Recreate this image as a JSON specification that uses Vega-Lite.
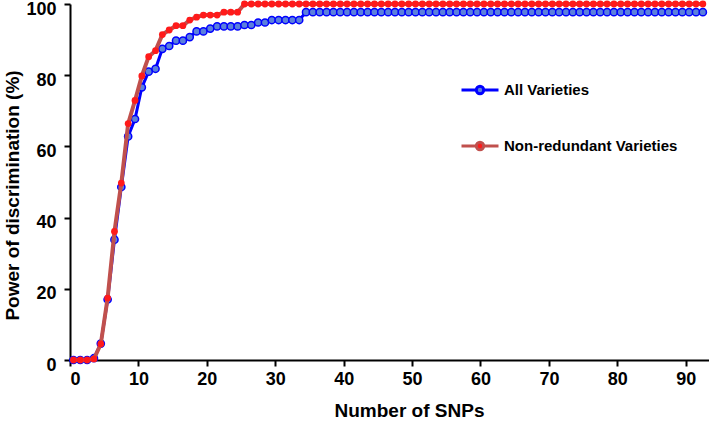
{
  "$schema": "https://vega.github.io/schema/vega-lite/v6.json",
  "width": 639,
  "height": 356,
  "autosize": {"type": "none"},
  "padding": {"left": 70, "top": 4, "right": 0, "bottom": 62},
  "background": "white",
  "config": {
    "view": {"stroke": null},
    "font": "Liberation Sans",
    "axis": {
      "grid": false,
      "domainColor": "black",
      "domainWidth": 2,
      "tickColor": "black",
      "tickWidth": 2,
      "tickSize": 6,
      "labelFont": "Liberation Sans",
      "labelFontSize": 18,
      "labelFontWeight": "bold",
      "labelColor": "black",
      "titleFont": "Liberation Sans",
      "titleFontSize": 19,
      "titleFontWeight": "bold",
      "titleColor": "black"
    }
  },
  "data": {
    "values": [
      {"snps": 0.5, "power": 0, "series": "All Varieties"},
      {"snps": 1.5, "power": 0, "series": "All Varieties"},
      {"snps": 2.5, "power": 0, "series": "All Varieties"},
      {"snps": 3.5, "power": 0.5, "series": "All Varieties"},
      {"snps": 4.5, "power": 4.6, "series": "All Varieties"},
      {"snps": 5.5, "power": 17, "series": "All Varieties"},
      {"snps": 6.5, "power": 33.8, "series": "All Varieties"},
      {"snps": 7.5, "power": 48.6, "series": "All Varieties"},
      {"snps": 8.5, "power": 62.8, "series": "All Varieties"},
      {"snps": 9.5, "power": 67.7, "series": "All Varieties"},
      {"snps": 10.5, "power": 76.6, "series": "All Varieties"},
      {"snps": 11.5, "power": 81, "series": "All Varieties"},
      {"snps": 12.5, "power": 81.8, "series": "All Varieties"},
      {"snps": 13.5, "power": 87.4, "series": "All Varieties"},
      {"snps": 14.5, "power": 88.2, "series": "All Varieties"},
      {"snps": 15.5, "power": 89.7, "series": "All Varieties"},
      {"snps": 16.5, "power": 89.7, "series": "All Varieties"},
      {"snps": 17.5, "power": 90.7, "series": "All Varieties"},
      {"snps": 18.5, "power": 92.3, "series": "All Varieties"},
      {"snps": 19.5, "power": 92.3, "series": "All Varieties"},
      {"snps": 20.5, "power": 93.1, "series": "All Varieties"},
      {"snps": 21.5, "power": 93.7, "series": "All Varieties"},
      {"snps": 22.5, "power": 93.7, "series": "All Varieties"},
      {"snps": 23.5, "power": 93.7, "series": "All Varieties"},
      {"snps": 24.5, "power": 93.7, "series": "All Varieties"},
      {"snps": 25.5, "power": 94.1, "series": "All Varieties"},
      {"snps": 26.5, "power": 94.1, "series": "All Varieties"},
      {"snps": 27.5, "power": 94.8, "series": "All Varieties"},
      {"snps": 28.5, "power": 94.8, "series": "All Varieties"},
      {"snps": 29.5, "power": 95.5, "series": "All Varieties"},
      {"snps": 30.5, "power": 95.5, "series": "All Varieties"},
      {"snps": 31.5, "power": 95.5, "series": "All Varieties"},
      {"snps": 32.5, "power": 95.5, "series": "All Varieties"},
      {"snps": 33.5, "power": 95.5, "series": "All Varieties"},
      {"snps": 34.5, "power": 97.7, "series": "All Varieties"},
      {"snps": 35.5, "power": 97.7, "series": "All Varieties"},
      {"snps": 36.5, "power": 97.7, "series": "All Varieties"},
      {"snps": 37.5, "power": 97.7, "series": "All Varieties"},
      {"snps": 38.5, "power": 97.7, "series": "All Varieties"},
      {"snps": 39.5, "power": 97.7, "series": "All Varieties"},
      {"snps": 40.5, "power": 97.7, "series": "All Varieties"},
      {"snps": 41.5, "power": 97.7, "series": "All Varieties"},
      {"snps": 42.5, "power": 97.7, "series": "All Varieties"},
      {"snps": 43.5, "power": 97.7, "series": "All Varieties"},
      {"snps": 44.5, "power": 97.7, "series": "All Varieties"},
      {"snps": 45.5, "power": 97.7, "series": "All Varieties"},
      {"snps": 46.5, "power": 97.7, "series": "All Varieties"},
      {"snps": 47.5, "power": 97.7, "series": "All Varieties"},
      {"snps": 48.5, "power": 97.7, "series": "All Varieties"},
      {"snps": 49.5, "power": 97.7, "series": "All Varieties"},
      {"snps": 50.5, "power": 97.7, "series": "All Varieties"},
      {"snps": 51.5, "power": 97.7, "series": "All Varieties"},
      {"snps": 52.5, "power": 97.7, "series": "All Varieties"},
      {"snps": 53.5, "power": 97.7, "series": "All Varieties"},
      {"snps": 54.5, "power": 97.7, "series": "All Varieties"},
      {"snps": 55.5, "power": 97.7, "series": "All Varieties"},
      {"snps": 56.5, "power": 97.7, "series": "All Varieties"},
      {"snps": 57.5, "power": 97.7, "series": "All Varieties"},
      {"snps": 58.5, "power": 97.7, "series": "All Varieties"},
      {"snps": 59.5, "power": 97.7, "series": "All Varieties"},
      {"snps": 60.5, "power": 97.7, "series": "All Varieties"},
      {"snps": 61.5, "power": 97.7, "series": "All Varieties"},
      {"snps": 62.5, "power": 97.7, "series": "All Varieties"},
      {"snps": 63.5, "power": 97.7, "series": "All Varieties"},
      {"snps": 64.5, "power": 97.7, "series": "All Varieties"},
      {"snps": 65.5, "power": 97.7, "series": "All Varieties"},
      {"snps": 66.5, "power": 97.7, "series": "All Varieties"},
      {"snps": 67.5, "power": 97.7, "series": "All Varieties"},
      {"snps": 68.5, "power": 97.7, "series": "All Varieties"},
      {"snps": 69.5, "power": 97.7, "series": "All Varieties"},
      {"snps": 70.5, "power": 97.7, "series": "All Varieties"},
      {"snps": 71.5, "power": 97.7, "series": "All Varieties"},
      {"snps": 72.5, "power": 97.7, "series": "All Varieties"},
      {"snps": 73.5, "power": 97.7, "series": "All Varieties"},
      {"snps": 74.5, "power": 97.7, "series": "All Varieties"},
      {"snps": 75.5, "power": 97.7, "series": "All Varieties"},
      {"snps": 76.5, "power": 97.7, "series": "All Varieties"},
      {"snps": 77.5, "power": 97.7, "series": "All Varieties"},
      {"snps": 78.5, "power": 97.7, "series": "All Varieties"},
      {"snps": 79.5, "power": 97.7, "series": "All Varieties"},
      {"snps": 80.5, "power": 97.7, "series": "All Varieties"},
      {"snps": 81.5, "power": 97.7, "series": "All Varieties"},
      {"snps": 82.5, "power": 97.7, "series": "All Varieties"},
      {"snps": 83.5, "power": 97.7, "series": "All Varieties"},
      {"snps": 84.5, "power": 97.7, "series": "All Varieties"},
      {"snps": 85.5, "power": 97.7, "series": "All Varieties"},
      {"snps": 86.5, "power": 97.7, "series": "All Varieties"},
      {"snps": 87.5, "power": 97.7, "series": "All Varieties"},
      {"snps": 88.5, "power": 97.7, "series": "All Varieties"},
      {"snps": 89.5, "power": 97.7, "series": "All Varieties"},
      {"snps": 90.5, "power": 97.7, "series": "All Varieties"},
      {"snps": 91.5, "power": 97.7, "series": "All Varieties"},
      {"snps": 92.5, "power": 97.7, "series": "All Varieties"},
      {"snps": 0.5, "power": 0, "series": "Non-redundant Varieties"},
      {"snps": 1.5, "power": 0, "series": "Non-redundant Varieties"},
      {"snps": 2.5, "power": 0, "series": "Non-redundant Varieties"},
      {"snps": 3.5, "power": 0.3, "series": "Non-redundant Varieties"},
      {"snps": 4.5, "power": 4.5, "series": "Non-redundant Varieties"},
      {"snps": 5.5, "power": 17.4, "series": "Non-redundant Varieties"},
      {"snps": 6.5, "power": 36.1, "series": "Non-redundant Varieties"},
      {"snps": 7.5, "power": 49.7, "series": "Non-redundant Varieties"},
      {"snps": 8.5, "power": 66.4, "series": "Non-redundant Varieties"},
      {"snps": 9.5, "power": 72.9, "series": "Non-redundant Varieties"},
      {"snps": 10.5, "power": 79.8, "series": "Non-redundant Varieties"},
      {"snps": 11.5, "power": 85.2, "series": "Non-redundant Varieties"},
      {"snps": 12.5, "power": 86.9, "series": "Non-redundant Varieties"},
      {"snps": 13.5, "power": 91.4, "series": "Non-redundant Varieties"},
      {"snps": 14.5, "power": 92.7, "series": "Non-redundant Varieties"},
      {"snps": 15.5, "power": 93.9, "series": "Non-redundant Varieties"},
      {"snps": 16.5, "power": 93.9, "series": "Non-redundant Varieties"},
      {"snps": 17.5, "power": 95.5, "series": "Non-redundant Varieties"},
      {"snps": 18.5, "power": 96.3, "series": "Non-redundant Varieties"},
      {"snps": 19.5, "power": 96.9, "series": "Non-redundant Varieties"},
      {"snps": 20.5, "power": 96.9, "series": "Non-redundant Varieties"},
      {"snps": 21.5, "power": 96.9, "series": "Non-redundant Varieties"},
      {"snps": 22.5, "power": 97.7, "series": "Non-redundant Varieties"},
      {"snps": 23.5, "power": 97.7, "series": "Non-redundant Varieties"},
      {"snps": 24.5, "power": 97.7, "series": "Non-redundant Varieties"},
      {"snps": 25.5, "power": 100, "series": "Non-redundant Varieties"},
      {"snps": 26.5, "power": 100, "series": "Non-redundant Varieties"},
      {"snps": 27.5, "power": 100, "series": "Non-redundant Varieties"},
      {"snps": 28.5, "power": 100, "series": "Non-redundant Varieties"},
      {"snps": 29.5, "power": 100, "series": "Non-redundant Varieties"},
      {"snps": 30.5, "power": 100, "series": "Non-redundant Varieties"},
      {"snps": 31.5, "power": 100, "series": "Non-redundant Varieties"},
      {"snps": 32.5, "power": 100, "series": "Non-redundant Varieties"},
      {"snps": 33.5, "power": 100, "series": "Non-redundant Varieties"},
      {"snps": 34.5, "power": 100, "series": "Non-redundant Varieties"},
      {"snps": 35.5, "power": 100, "series": "Non-redundant Varieties"},
      {"snps": 36.5, "power": 100, "series": "Non-redundant Varieties"},
      {"snps": 37.5, "power": 100, "series": "Non-redundant Varieties"},
      {"snps": 38.5, "power": 100, "series": "Non-redundant Varieties"},
      {"snps": 39.5, "power": 100, "series": "Non-redundant Varieties"},
      {"snps": 40.5, "power": 100, "series": "Non-redundant Varieties"},
      {"snps": 41.5, "power": 100, "series": "Non-redundant Varieties"},
      {"snps": 42.5, "power": 100, "series": "Non-redundant Varieties"},
      {"snps": 43.5, "power": 100, "series": "Non-redundant Varieties"},
      {"snps": 44.5, "power": 100, "series": "Non-redundant Varieties"},
      {"snps": 45.5, "power": 100, "series": "Non-redundant Varieties"},
      {"snps": 46.5, "power": 100, "series": "Non-redundant Varieties"},
      {"snps": 47.5, "power": 100, "series": "Non-redundant Varieties"},
      {"snps": 48.5, "power": 100, "series": "Non-redundant Varieties"},
      {"snps": 49.5, "power": 100, "series": "Non-redundant Varieties"},
      {"snps": 50.5, "power": 100, "series": "Non-redundant Varieties"},
      {"snps": 51.5, "power": 100, "series": "Non-redundant Varieties"},
      {"snps": 52.5, "power": 100, "series": "Non-redundant Varieties"},
      {"snps": 53.5, "power": 100, "series": "Non-redundant Varieties"},
      {"snps": 54.5, "power": 100, "series": "Non-redundant Varieties"},
      {"snps": 55.5, "power": 100, "series": "Non-redundant Varieties"},
      {"snps": 56.5, "power": 100, "series": "Non-redundant Varieties"},
      {"snps": 57.5, "power": 100, "series": "Non-redundant Varieties"},
      {"snps": 58.5, "power": 100, "series": "Non-redundant Varieties"},
      {"snps": 59.5, "power": 100, "series": "Non-redundant Varieties"},
      {"snps": 60.5, "power": 100, "series": "Non-redundant Varieties"},
      {"snps": 61.5, "power": 100, "series": "Non-redundant Varieties"},
      {"snps": 62.5, "power": 100, "series": "Non-redundant Varieties"},
      {"snps": 63.5, "power": 100, "series": "Non-redundant Varieties"},
      {"snps": 64.5, "power": 100, "series": "Non-redundant Varieties"},
      {"snps": 65.5, "power": 100, "series": "Non-redundant Varieties"},
      {"snps": 66.5, "power": 100, "series": "Non-redundant Varieties"},
      {"snps": 67.5, "power": 100, "series": "Non-redundant Varieties"},
      {"snps": 68.5, "power": 100, "series": "Non-redundant Varieties"},
      {"snps": 69.5, "power": 100, "series": "Non-redundant Varieties"},
      {"snps": 70.5, "power": 100, "series": "Non-redundant Varieties"},
      {"snps": 71.5, "power": 100, "series": "Non-redundant Varieties"},
      {"snps": 72.5, "power": 100, "series": "Non-redundant Varieties"},
      {"snps": 73.5, "power": 100, "series": "Non-redundant Varieties"},
      {"snps": 74.5, "power": 100, "series": "Non-redundant Varieties"},
      {"snps": 75.5, "power": 100, "series": "Non-redundant Varieties"},
      {"snps": 76.5, "power": 100, "series": "Non-redundant Varieties"},
      {"snps": 77.5, "power": 100, "series": "Non-redundant Varieties"},
      {"snps": 78.5, "power": 100, "series": "Non-redundant Varieties"},
      {"snps": 79.5, "power": 100, "series": "Non-redundant Varieties"},
      {"snps": 80.5, "power": 100, "series": "Non-redundant Varieties"},
      {"snps": 81.5, "power": 100, "series": "Non-redundant Varieties"},
      {"snps": 82.5, "power": 100, "series": "Non-redundant Varieties"},
      {"snps": 83.5, "power": 100, "series": "Non-redundant Varieties"},
      {"snps": 84.5, "power": 100, "series": "Non-redundant Varieties"},
      {"snps": 85.5, "power": 100, "series": "Non-redundant Varieties"},
      {"snps": 86.5, "power": 100, "series": "Non-redundant Varieties"},
      {"snps": 87.5, "power": 100, "series": "Non-redundant Varieties"},
      {"snps": 88.5, "power": 100, "series": "Non-redundant Varieties"},
      {"snps": 89.5, "power": 100, "series": "Non-redundant Varieties"},
      {"snps": 90.5, "power": 100, "series": "Non-redundant Varieties"},
      {"snps": 91.5, "power": 100, "series": "Non-redundant Varieties"},
      {"snps": 92.5, "power": 100, "series": "Non-redundant Varieties"}
    ]
  },
  "encoding": {
    "x": {
      "field": "snps",
      "type": "quantitative",
      "title": "Number of SNPs",
      "scale": {"domain": [0, 93.4], "nice": false, "zero": false},
      "axis": {"values": [0, 10, 20, 30, 40, 50, 60, 70, 80, 90], "labelPadding": 4, "titlePadding": 13, "titleX": 339, "titleAnchor": "middle"}
    },
    "y": {
      "field": "power",
      "type": "quantitative",
      "title": "Power of discrimination (%)",
      "scale": {"domain": [0, 100], "nice": false},
      "axis": {"values": [0, 20, 40, 60, 80, 100], "labelPadding": 8, "labelOffset": 5, "titlePadding": 3, "titleFontSize": 19, "titleY": 191, "titleAnchor": "middle"}
    }
  },
  "layer": [
    {
      "transform": [{"filter": "datum.series === 'All Varieties'"}],
      "mark": {"type": "line", "strokeWidth": 3, "clip": false},
      "encoding": {
        "color": {
          "field": "series",
          "type": "nominal",
          "scale": {"domain": ["All Varieties", "Non-redundant Varieties"], "range": ["#0000ff", "#c0504d"]},
          "legend": {
            "orient": "none",
            "legendX": 390,
            "legendY": 66,
            "title": null,
            "symbolType": "M-1,0H-0.2M0.2,0H1M0.2,0A0.2,0.2,0,1,1,-0.2,0A0.2,0.2,0,1,1,0.2,0Z",
            "symbolSize": 1369,
            "symbolStrokeWidth": 3,
            "labelFont": "Liberation Sans",
            "labelFontSize": 15,
            "labelFontWeight": "bold",
            "labelColor": "black",
            "labelOffset": 4,
            "labelLimit": 0,
            "rowPadding": 26,
            "encode": {
              "symbols": {
                "update": {
                  "fill": {"signal": "datum.value === 'All Varieties' ? '#5b80dc' : '#ff1a1a'"},
                  "fillOpacity": {"value": 1}
                }
              }
            }
          }
        }
      }
    },
    {
      "transform": [{"filter": "datum.series === 'All Varieties'"}],
      "mark": {"type": "point", "filled": true, "fill": "#5b80dc", "stroke": "#0000ff", "strokeWidth": 1.5, "size": 52, "opacity": 1, "clip": false}
    },
    {
      "transform": [{"filter": "datum.series === 'Non-redundant Varieties'"}],
      "mark": {"type": "line", "strokeWidth": 4, "clip": false},
      "encoding": {
        "color": {"field": "series", "type": "nominal"}
      }
    },
    {
      "transform": [{"filter": "datum.series === 'Non-redundant Varieties'"}],
      "mark": {"type": "point", "filled": true, "fill": "#ff1a1a", "strokeWidth": 0, "size": 46, "opacity": 1, "clip": false}
    }
  ]
}
